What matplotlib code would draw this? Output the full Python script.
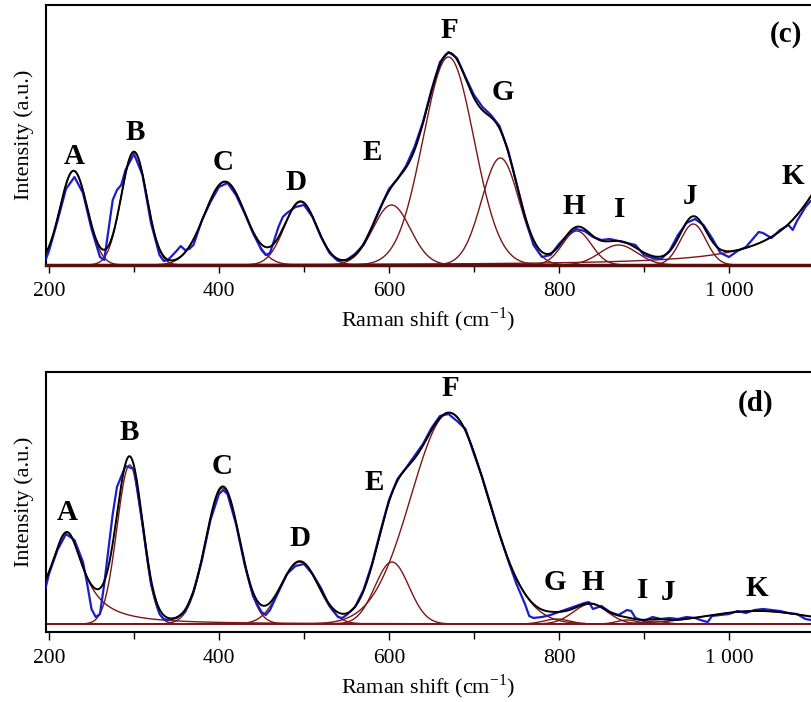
import numpy as np
import matplotlib.pyplot as plt

plt.rcParams['font.family'] = ['Liberation Serif', 'DejaVu Serif']
plt.rcParams['mathtext.fontset'] = 'custom'
plt.rcParams['mathtext.rm'] = 'Liberation Serif'

# ---- fitted bands (centre, height, width, lorentzian?) ----
labels = list("ABCDEFGHIJK")
cen_c = [229, 300, 407, 496, 603, 670, 731, 821, 870, 958, 1130]
amp_c = [94, 113, 83, 63, 60, 208, 107, 34, 20, 41, 100]
wid_c = [16, 15, 24, 19, 22, 30, 22, 17, 22, 15, 50]
lor_c = [0, 0, 0, 0, 0, 0, 0, 0, 0, 0, 1]

cen_d = [221, 295, 404.5, 495, 603.5, 671, 797, 837, 880, 912, 1033]
amp_d = [92, 159, 136, 62, 62, 211, 5, 20, 4, 3, 13]
wid_d = [24, 15, 20, 22, 20, 45, 15, 20, 12, 12, 60]
lor_d = [1, 0, 0, 0, 0, 0, 0, 0, 0, 0, 0]

spec_c_x = [196, 200, 210, 220, 230, 240, 250, 260, 265, 270, 275, 280, 285, 290, 300,
            310, 320, 330, 335, 340, 350, 355, 360, 365, 370, 380, 390, 400, 410, 420,
            430, 440, 450, 455, 460, 470, 475, 480, 490, 500, 510, 520, 530, 540, 550,
            560, 570, 580, 590, 600, 610, 620, 630, 640, 650, 660, 670, 680, 690, 700,
            710, 720, 730, 740, 750, 760, 770, 780, 790, 800, 810, 820, 830, 840, 850,
            860, 870, 880, 890, 900, 910, 920, 930, 940, 950, 960, 970, 980, 990, 1000,
            1010, 1020, 1030, 1035, 1040, 1050, 1060, 1070, 1075, 1080, 1090, 1096]
spec_c_y = [5, 14, 44, 76, 88, 72, 36, 8, 5, 35, 65, 75, 80, 95, 111,
            90, 42, 10, 4, 5, 14, 19, 15, 16, 20, 45, 63, 78, 82, 70,
            52, 32, 15, 10, 12, 38, 48, 52, 58, 60, 48, 28, 12, 4, 5,
            11, 20, 38, 58, 76, 86, 99, 118, 143, 175, 203, 213, 207, 188, 170,
            158, 150, 139, 115, 82, 48, 20, 8, 10, 21, 30, 36, 34, 28, 25,
            26, 24, 22, 20, 10, 7, 6, 14, 30, 42, 46, 40, 27, 12, 8,
            14, 18, 28, 33, 32, 27, 35, 40, 35, 44, 58, 64]

spec_d_x = [196, 200, 210, 220, 230, 240, 245, 250, 255, 260, 265, 270, 275, 280, 290,
            300, 310, 320, 330, 335, 340, 350, 360, 370, 380, 390, 400, 405, 410, 420,
            430, 440, 450, 455, 460, 470, 480, 490, 500, 510, 520, 530, 540, 545, 550,
            560, 570, 580, 590, 600, 610, 620, 630, 640, 650, 660, 670, 680, 690, 700,
            710, 720, 730, 740, 750, 760, 765, 770, 780, 790, 800, 810, 820, 830, 835,
            840, 850, 860, 870, 880, 885, 890, 900, 910, 920, 930, 940, 950, 960, 970,
            975, 980, 990, 1000, 1010, 1020, 1030, 1040, 1050, 1060, 1070, 1080, 1090, 1096]
spec_d_y = [36, 50, 74, 90, 84, 62, 40, 15, 7, 10, 40, 75, 110, 137, 158,
            155, 100, 40, 10, 5, 4, 6, 12, 32, 64, 104, 130, 134, 130, 100,
            60, 28, 12, 9, 14, 32, 50, 58, 60, 50, 36, 18, 7, 6, 9,
            17, 34, 60, 93, 124, 145, 156, 168, 180, 196, 208, 210, 203, 195, 170,
            146, 118, 90, 64, 40, 20, 8, 6, 7, 9, 12, 15, 18, 21, 22,
            15, 18, 12, 9, 14, 13, 6, 3, 7, 5, 6, 5, 7, 6, 3,
            2, 8, 9, 10, 13, 11, 14, 15, 14, 13, 11, 10, 5, 4]

# label positions (x in cm-1, y in intensity units)
lab_c_x = [230, 301, 405, 491, 580, 671, 734, 817, 872, 954, 1075]
lab_c_y = [108, 133, 103, 83, 112, 235, 172, 58, 55, 68, 88]
lab_d_x = [221, 295, 404, 495, 583, 672, 795, 840, 899, 928, 1033]
lab_d_y = [112, 192, 157, 86, 142, 236, 41, 41, 34, 31, 36]

x = np.linspace(196, 1097, 1500)
brown = '#7a1616'
blue = '#1c1cc8'


def band(x, c, a, w, lor):
    if lor:
        return a / (1 + ((x - c) / w) ** 2)
    return a * np.exp(-0.5 * ((x - c) / w) ** 2)


fig = plt.figure(figsize=(8.11, 7.02), dpi=100)
ax_c = fig.add_axes([46 / 811, 1 - 265 / 702, 1 - 46 / 811, 260 / 702])
ax_d = fig.add_axes([46 / 811, 1 - 632 / 702, 1 - 46 / 811, 260 / 702])

panels = [
    (ax_c, cen_c, amp_c, wid_c, lor_c, spec_c_x, spec_c_y, lab_c_x, lab_c_y, '(c)', (1067, 230), (0, 260)),
    (ax_d, cen_d, amp_d, wid_d, lor_d, spec_d_x, spec_d_y, lab_d_x, lab_d_y, '(d)', (1031, 221), (-8, 252)),
]

for ax, cen, amp, wid, lor, sx, sy, lx, ly, tag, tagpos, ylim in panels:
    total = np.zeros_like(x)
    for c, a, w, l in zip(cen, amp, wid, lor):
        comp = band(x, c, a, w, l)
        total += comp
        ax.plot(x, comp, color=brown, lw=1.0, zorder=2)
    ax.plot(sx, sy, color=blue, lw=1.6, zorder=3)
    ax.plot(x, total, color='black', lw=1.4, zorder=4)

    for name, tx, ty in zip(labels, lx, ly):
        ax.text(tx, ty, name, fontsize=21, fontweight='bold', ha='center', va='center')
    ax.text(tagpos[0], tagpos[1], tag, fontsize=21, fontweight='bold', ha='center', va='center')

    ax.set_xlim(196.5, 1096.5)
    ax.set_ylim(*ylim)
    ax.set_yticks([])
    ax.set_xticks([200, 400, 600, 800, 1000])
    ax.set_xticklabels(['200', '400', '600', '800', '1 000'])
    ax.set_xticks([300, 500, 700, 900], minor=True)
    ax.tick_params(axis='x', which='major', direction='out', length=6, width=1, labelsize=15.5, pad=6.5)
    ax.tick_params(axis='x', which='minor', direction='out', length=5, width=1)
    ax.spines['right'].set_visible(False)
    for s in ['top', 'left', 'bottom']:
        ax.spines[s].set_linewidth(1.5)
    ax.set_xlabel('Raman shift (cm$^{\\mathregular{-1}}$)', fontsize=16, labelpad=3)
    ax.set_ylabel('Intensity (a.u.)', fontsize=16, labelpad=9)

ax_c.spines['bottom'].set_color('#5a0e0e')
ax_c.spines['bottom'].set_linewidth(2.5)

fig.savefig('out.png', dpi=100)
